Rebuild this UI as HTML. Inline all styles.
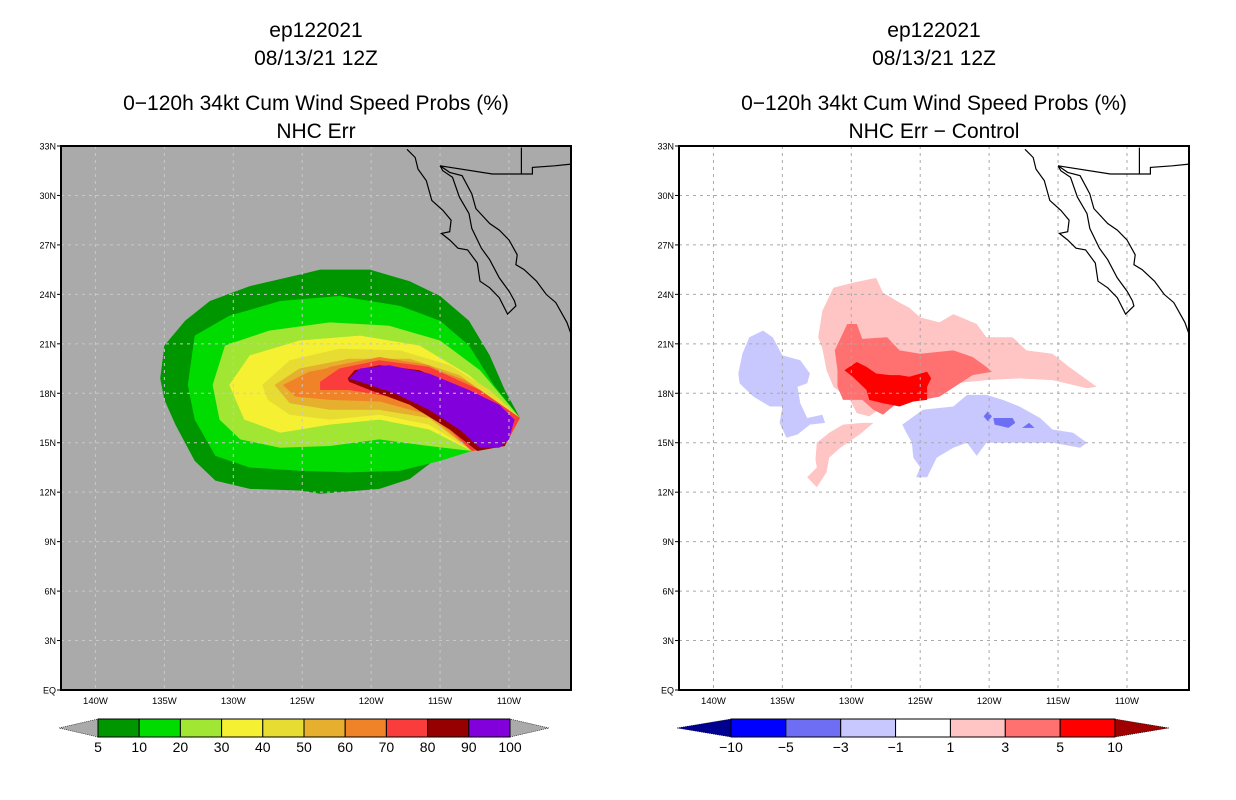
<!DOCTYPE html>
<html><head><meta charset="utf-8">
<style>
html,body{margin:0;padding:0;background:#fff;}
svg{display:block;}
text{font-family:"Liberation Sans",sans-serif;}
</style></head>
<body>
<svg id="chart" width="1236" height="800" xmlns="http://www.w3.org/2000/svg">
<rect width="1236" height="800" fill="#fff"/>
<g font-size="21" text-anchor="middle" fill="#000">
<text x="316" y="37">ep122021</text>
<text x="316" y="65">08/13/21 12Z</text>
<text x="316" y="110">0−120h 34kt Cum Wind Speed Probs (%)</text>
<text x="316" y="138">NHC Err</text>
</g>
<g font-size="21" text-anchor="middle" fill="#000">
<text x="934" y="37">ep122021</text>
<text x="934" y="65">08/13/21 12Z</text>
<text x="934" y="110">0−120h 34kt Cum Wind Speed Probs (%)</text>
<text x="934" y="138">NHC Err − Control</text>
</g>
</svg>
<script>
// ---- axes data ----
const lonTicks=[-140,-135,-130,-125,-120,-115,-110];
const lonLabels=["140W","135W","130W","125W","120W","115W","110W"];
const latTicks=[0,3,6,9,12,15,18,21,24,27,30,33];
const latLabels=["EQ","3N","6N","9N","12N","15N","18N","21N","24N","27N","30N","33N"];
// ---- left panel colorbar ----
const probLevels=[5,10,20,30,40,50,60,70,80,90,100];
const probColors=["#009600","#00dc00","#a0e632","#f5f032","#e6dc32","#e6af2d","#f08228","#fa3c3c","#960000","#8200dc"];
// ---- right panel colorbar ----
const diffLevels=[-10,-5,-3,-1,1,3,5,10];
const diffColors=["#0000ff","#6e6ef5","#c8c8ff","#ffffff","#ffc4c4","#ff7070","#ff0000"];
// ---- probability contours (lon,lat pairs) ----
const p5=[[-135.3,18.9],[-135.0,20.9],[-133.5,22.4],[-131.7,23.6],[-128.8,24.5],[-125.2,25.2],[-123.7,25.5],[-120.1,25.5],[-117.2,24.8],[-115.0,23.9],[-112.9,22.4],[-111.4,20.3],[-110.3,18.2],[-109.2,16.5],[-110.3,15.2],[-112.9,14.5],[-115.0,14.2],[-117.2,12.8],[-119.4,12.2],[-123.7,11.9],[-125.2,12.1],[-128.8,12.2],[-131.3,12.7],[-132.8,13.9],[-134.2,16.1],[-135.0,17.6]];
const p10=[[-133.3,18.5],[-132.8,21.5],[-130.3,22.7],[-126.6,23.6],[-122.3,23.9],[-117.9,23.3],[-115.0,22.4],[-112.9,20.9],[-111.1,18.5],[-109.2,16.5],[-110.3,14.8],[-112.7,14.5],[-115.0,13.9],[-117.9,13.3],[-121.6,13.2],[-125.2,13.3],[-128.8,13.5],[-131.3,14.2],[-132.8,16.4]];
const p20=[[-131.5,18.5],[-130.6,20.9],[-127.4,21.8],[-123.0,22.3],[-118.7,22.1],[-115.0,21.2],[-112.1,19.4],[-109.2,16.5],[-110.3,14.8],[-112.7,14.5],[-115.8,14.8],[-119.4,15.2],[-123.0,14.8],[-126.6,14.7],[-129.5,15.2],[-131.0,16.4]];
const p30=[[-130.3,18.5],[-128.8,20.3],[-125.2,21.2],[-120.8,21.5],[-116.5,20.9],[-112.9,19.1],[-109.2,16.5],[-110.3,14.8],[-112.7,14.5],[-115.8,15.8],[-119.4,16.4],[-123.0,16.1],[-126.6,15.6],[-129.2,16.4]];
const p40=[[-127.9,18.5],[-125.9,20.0],[-122.3,20.7],[-117.9,20.6],[-114.3,19.7],[-111.4,18.2],[-109.2,16.5],[-110.3,14.8],[-112.7,14.5],[-115.8,16.1],[-119.4,16.7],[-123.0,16.4],[-125.9,16.7],[-127.5,17.6]];
const p50=[[-127.0,18.5],[-125.2,19.5],[-121.6,20.1],[-117.2,20.1],[-113.6,19.1],[-109.2,16.5],[-110.3,14.8],[-112.7,14.5],[-115.8,16.5],[-119.4,17.0],[-123.0,17.0],[-125.9,17.4]];
const p60=[[-126.4,18.5],[-124.5,19.3],[-120.8,19.9],[-116.5,19.8],[-113.2,18.8],[-109.2,16.5],[-110.3,14.8],[-112.7,14.5],[-115.8,16.7],[-119.4,17.5],[-123.0,17.6],[-125.5,17.8]];
const p70=[[-125.2,18.5],[-123.0,19.6],[-119.4,20.2],[-115.8,19.7],[-112.9,18.5],[-109.2,16.5],[-110.3,14.8],[-112.7,14.5],[-115.4,16.7],[-118.7,17.8],[-122.3,18.1],[-124.8,18.1]];
const p80=[[-123.7,18.7],[-122.3,19.5],[-119.4,20.0],[-115.8,19.6],[-112.1,18.2],[-109.2,16.5],[-110.3,14.8],[-112.7,14.5],[-115.0,16.4],[-117.9,17.7],[-121.6,18.2],[-123.7,18.2]];
const p90=[[-121.7,18.9],[-121.2,19.4],[-119.4,19.7],[-116.5,19.4],[-112.9,18.1],[-109.6,16.4],[-110.3,14.8],[-112.3,14.5],[-114.3,15.8],[-117.2,17.3],[-120.1,18.2],[-121.6,18.7]];
const p100=[[-121.6,18.9],[-120.8,19.5],[-118.7,19.7],[-115.8,19.2],[-112.9,18.2],[-110.7,17.3],[-109.6,16.4],[-110.0,15.2],[-110.7,14.7],[-112.1,14.7],[-113.6,15.8],[-115.8,17.0],[-118.3,18.0],[-120.1,18.5]];
const probContours=[p5,p10,p20,p30,p40,p50,p60,p70,p80,p90,p100];
const contourColorIdx=[0,1,2,3,4,5,6,6,7,8,9];
// ---- difference contours (lon,lat pairs) ----
const dPos1=[[-132.1,23.0],[-131.3,24.4],[-129.9,24.7],[-128.2,25.0],[-127.7,24.1],[-126.5,23.5],[-125.8,23.2],[-125.0,22.6],[-123.6,22.3],[-122.6,22.8],[-120.9,22.2],[-120.2,21.4],[-118.3,21.4],[-117.3,20.6],[-115.4,20.4],[-114.2,19.6],[-112.2,18.4],[-112.9,18.3],[-115.4,18.8],[-117.8,18.9],[-120.2,18.8],[-122.6,18.6],[-125.0,18.2],[-126.7,17.8],[-127.7,17.2],[-128.7,16.6],[-129.6,16.8],[-130.1,17.6],[-131.3,18.4],[-131.8,19.4],[-132.1,20.7],[-132.4,21.4]];
const dPos1b=[[-133.2,12.9],[-132.5,12.3],[-131.8,13.2],[-131.6,14.1],[-130.8,14.7],[-129.4,15.5],[-128.4,16.2],[-129.2,16.2],[-130.6,16.1],[-131.6,15.6],[-132.5,15.0],[-132.6,14.0],[-132.5,13.5]];
const dPos3=[[-131.2,20.6],[-130.3,22.2],[-129.6,22.2],[-129.2,21.3],[-127.4,21.4],[-126.5,20.6],[-125.0,20.4],[-122.6,20.6],[-121.2,20.2],[-120.2,19.6],[-119.8,19.3],[-121.2,19.1],[-123.6,17.8],[-125.5,17.5],[-126.7,17.4],[-127.7,16.7],[-128.4,17.0],[-129.2,17.6],[-129.9,17.6],[-130.6,17.6],[-131.0,18.4],[-131.0,19.4]];
const dPos5=[[-130.5,19.4],[-129.6,19.9],[-128.9,19.6],[-128.2,19.2],[-127.2,19.1],[-126.5,19.1],[-125.8,19.0],[-124.5,19.3],[-124.2,18.9],[-124.5,18.4],[-124.5,17.6],[-125.5,17.5],[-126.5,17.2],[-127.7,17.4],[-128.7,17.6],[-128.9,18.2],[-129.9,19.0]];
const dNeg1a=[[-138.2,19.2],[-137.9,20.4],[-137.4,21.4],[-136.4,21.8],[-135.7,21.4],[-135.0,20.3],[-133.7,20.0],[-133.0,19.2],[-133.2,18.6],[-133.9,18.4],[-133.7,17.4],[-133.2,16.5],[-132.1,16.7],[-131.9,16.2],[-133.0,16.1],[-133.9,15.5],[-134.7,15.3],[-135.2,16.2],[-135.0,17.2],[-135.9,17.2],[-137.1,17.8],[-138.1,18.6]];
const dNeg1b=[[-126.3,16.1],[-124.8,17.0],[-122.6,17.2],[-121.6,17.9],[-120.2,17.9],[-119.0,17.6],[-117.8,17.2],[-116.3,16.5],[-115.4,15.8],[-113.9,15.6],[-112.9,15.0],[-113.4,14.7],[-115.4,15.0],[-117.8,15.0],[-120.2,15.0],[-120.9,14.2],[-121.6,15.0],[-122.6,14.7],[-123.8,14.1],[-124.5,12.9],[-125.3,12.9],[-125.0,13.5],[-125.5,14.1],[-125.6,15.0],[-126.0,15.6]];
const dNeg3a=[[-120.4,16.6],[-120.1,16.9],[-119.8,16.6],[-120.1,16.3]];
const dNeg3b=[[-119.7,16.5],[-118.3,16.5],[-118.1,16.2],[-118.6,15.9],[-119.6,16.1]];
const dNeg3c=[[-117.6,15.9],[-117.1,16.2],[-116.7,15.9]];
// ---- coastline (lon,lat) ----
const bajaCoast=[[-117.4,32.8],[-116.8,32.3],[-116.6,31.6],[-116.0,30.9],[-115.6,29.7],[-114.8,29.1],[-114.2,28.5],[-114.3,27.8],[-114.9,27.7],[-114.3,27.3],[-113.7,26.8],[-113.0,26.7],[-112.3,25.9],[-112.1,24.8],[-111.4,24.4],[-110.7,23.8],[-110.1,22.8],[-109.5,23.3],[-109.6,23.6],[-110.0,24.2],[-110.7,25.0],[-111.4,26.1],[-112.0,26.8],[-112.7,28.0],[-112.9,28.9],[-113.6,29.9],[-114.1,31.1],[-114.8,31.5],[-115.0,31.8]];
const mainCoast=[[-115.0,31.8],[-114.3,31.4],[-113.4,31.2],[-112.7,30.1],[-112.4,29.2],[-111.4,28.3],[-110.7,27.9],[-110.0,27.3],[-109.4,26.4],[-109.5,25.8],[-108.9,25.5],[-108.0,24.8],[-107.3,24.0],[-106.6,23.5],[-105.8,22.3],[-105.5,21.6]];
const borderLine=[[-115.0,31.8],[-111.2,31.3],[-108.3,31.3],[-108.3,31.7],[-106.7,31.8],[-105.5,31.9]];
const borderLine2=[[-109.1,32.9],[-109.1,31.3]];

const NS="http://www.w3.org/2000/svg";
const svg=document.getElementById('chart');
const LON0=-142.5,LON1=-105.5,LAT0=0,LAT1=33;
function mk(tag,attrs,parent){const e=document.createElementNS(NS,tag);for(const k in attrs)e.setAttribute(k,attrs[k]);(parent||svg).appendChild(e);return e;}

function panel(ox,name,bg,gridCol){
  const W=510,H=544,oy=146;
  const xs=lon=>ox+(lon-LON0)/(LON1-LON0)*W;
  const ys=lat=>oy+H-(lat-LAT0)/(LAT1-LAT0)*H;
  const g=mk('g',{});
  
  
  const cp='clip-'+name;
  const defs=mk('defs',{},g);
  const c=mk('clipPath',{id:cp},defs);
  mk('rect',{x:ox,y:oy,width:W,height:H},c);
  const bgr=mk('rect',{x:ox,y:oy,width:W,height:H,fill:bg},g);
  
  
  const inner=mk('g',{'clip-path':'url(#'+cp+')'},g);
  return {g,inner,xs,ys,ox,oy,W,H,gridCol};
}
function poly(P,pts,fill,name){
  const d=pts.map(p=>P.xs(p[0]).toFixed(1)+','+P.ys(p[1]).toFixed(1)).join(' ');
  const e=mk('polygon',{points:d,fill:fill},P.inner);
  
  
}
function line(P,pts,name){
  const d=pts.map(p=>P.xs(p[0]).toFixed(1)+','+P.ys(p[1]).toFixed(1)).join(' ');
  const e=mk('polyline',{points:d,fill:'none',stroke:'#000','stroke-width':1.2},P.inner);
  
  
}
function axes(P){
  lonTicks.forEach((lon,i)=>{
    const x=P.xs(lon);
    const gl=mk('line',{x1:x,x2:x,y1:P.oy,y2:P.oy+P.H,stroke:P.gridCol,'stroke-width':1,'stroke-dasharray':'3,4'},P.inner);
    
    
    const t=mk('text',{x:x,y:P.oy+P.H+14,'font-size':9.5,'text-anchor':'middle'},P.g);
    t.textContent=lonLabels[i];
    
    
  });
  latTicks.forEach((lat,i)=>{
    const y=P.ys(lat);
    if(lat>0&&lat<33){
      const gl=mk('line',{x1:P.ox,x2:P.ox+P.W,y1:y,y2:y,stroke:P.gridCol,'stroke-width':1,'stroke-dasharray':'3,4'},P.inner);
      
      
    }
    mk('line',{x1:P.ox-4,x2:P.ox,y1:y,y2:y,stroke:'#000','stroke-width':1},P.g);
    const t=mk('text',{x:P.ox-5,y:y+3.5,'font-size':9,'text-anchor':'end'},P.g);
    t.textContent=latLabels[i];
    
    
  });
  line(P,bajaCoast,'baja-coastline');
  line(P,mainCoast,'mainland-coastline');
  line(P,borderLine,'us-mexico-border');
  line(P,borderLine2,'state-border');
  const fr=mk('rect',{x:P.ox,y:P.oy,width:P.W,height:P.H,fill:'none',stroke:'#000','stroke-width':2},P.g);
  
  
}
function colorbar(x0,x1,y,levels,colors,leftTri,rightTri,tri,name){
  const g=mk('g',{});
  
  
  const h=18,n=colors.length,w=(x1-x0)/n;
  const lt=mk('polygon',{points:`${x0-tri},${y+h/2} ${x0},${y} ${x0},${y+h}`,fill:leftTri,stroke:'#000','stroke-width':0.6,'stroke-dasharray':'1,1'},g);
  
  
  const rt=mk('polygon',{points:`${x1+tri},${y+h/2} ${x1},${y} ${x1},${y+h}`,fill:rightTri,stroke:'#000','stroke-width':0.6,'stroke-dasharray':'1,1'},g);
  
  
  colors.forEach((c,i)=>{
    const r=mk('rect',{x:x0+i*w,y:y,width:w,height:h,fill:c,stroke:'#000','stroke-width':1},g);
    
    
  });
  levels.forEach((v,i)=>{
    const t=mk('text',{x:x0+i*w,y:y+h+15,'font-size':14,'text-anchor':'middle'},g);
    t.textContent=(v<0?'−'+Math.abs(v):String(v));
    
    
  });
}

// left panel
const L=panel(61,'left-map','#aaaaaa','#c8c8c8');
probContours.forEach((pts,i)=>poly(L,pts,probColors[contourColorIdx[i]],'prob-contour-'+probLevels[i]));
axes(L);
colorbar(98,510,719,probLevels,probColors,'#aaaaaa','#aaaaaa',39,'left-colorbar');

// right panel
const R=panel(679,'right-map','#ffffff','#aaaaaa');
poly(R,dPos1,diffColors[4],'diff-pos-1');
poly(R,dPos1b,diffColors[4],'diff-pos-1-south');
poly(R,dPos3,diffColors[5],'diff-pos-3');
poly(R,dPos5,diffColors[6],'diff-pos-5');
poly(R,dNeg1a,diffColors[2],'diff-neg-1-west');
poly(R,dNeg1b,diffColors[2],'diff-neg-1-east');
poly(R,dNeg3a,diffColors[1],'diff-neg-3-a');
poly(R,dNeg3b,diffColors[1],'diff-neg-3-b');
poly(R,dNeg3c,diffColors[1],'diff-neg-3-c');
axes(R);
colorbar(731,1115,719,diffLevels,diffColors,'#000090','#a00000',54,'right-colorbar');
</script>
</body></html>
